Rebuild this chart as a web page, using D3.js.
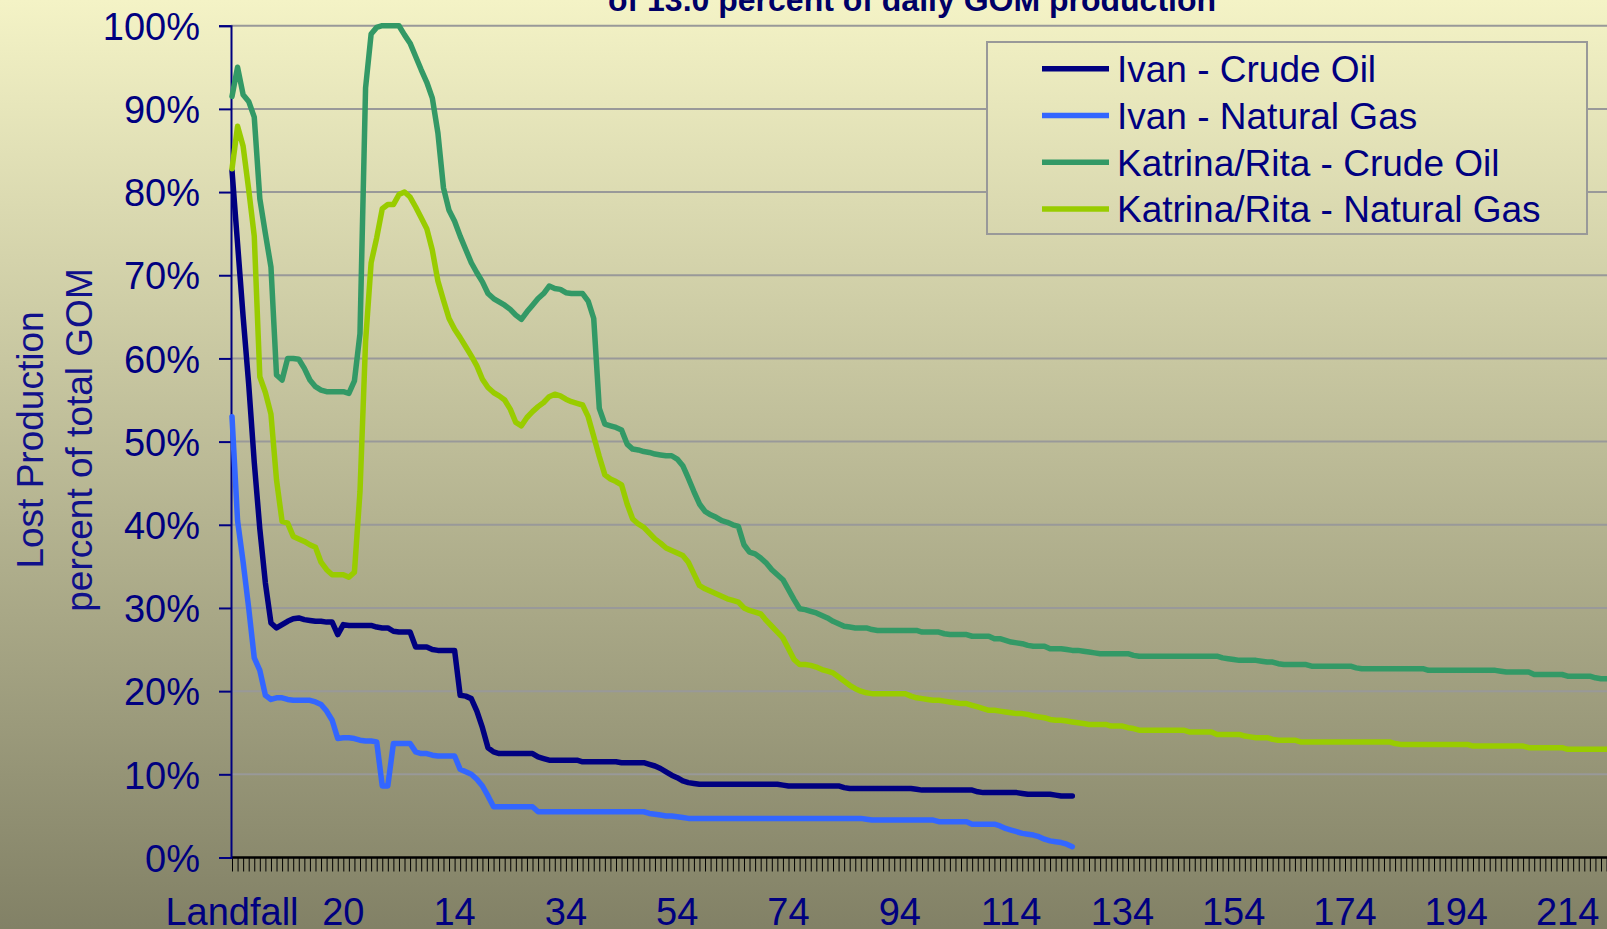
<!DOCTYPE html>
<html>
<head>
<meta charset="utf-8">
<script src="https://cdn.jsdelivr.net/npm/d3@7"></script>
<style>
html,body{margin:0;padding:0;overflow:hidden;background:#fff;}
svg{display:block;font-family:"Liberation Sans",Arial,sans-serif;}
</style>
</head>
<body>
<svg id="chart" width="1607" height="929"></svg>
<script>
// ---------- DATA (percent of total GOM production lost) ----------
const xTickLabels = ["Landfall","20","14","34","54","74","94","114","134","154","174","194","214"];
const labelEvery = 20;
const categoryCount = 248;
const yTicks = [0,10,20,30,40,50,60,70,80,90,100];
const seriesNames = ["Ivan - Crude Oil","Ivan - Natural Gas","Katrina/Rita - Crude Oil","Katrina/Rita - Natural Gas"];
const seriesColors = ["#000080","#3366FF","#339966","#99CC00"];

const ivanOil = [
82.6,73.8,65.0,56.9,47.5,39.5,33.0,28.2,27.6,28.0,
28.4,28.7,28.8,28.6,28.5,28.4,28.4,28.3,28.3,26.8,
28.0,27.9,27.9,27.9,27.9,27.9,27.7,27.6,27.6,27.2,
27.1,27.1,27.1,25.3,25.3,25.3,25.0,24.9,24.9,24.9,
24.9,19.5,19.4,19.1,17.6,15.6,13.2,12.7,12.5,12.5,
12.5,12.5,12.5,12.5,12.5,12.1,11.9,11.7,11.7,11.7,
11.7,11.7,11.7,11.5,11.5,11.5,11.5,11.5,11.5,11.5,
11.4,11.4,11.4,11.4,11.4,11.2,11.0,10.7,10.3,9.9,
9.6,9.2,9.0,8.9,8.8,8.8,8.8,8.8,8.8,8.8,
8.8,8.8,8.8,8.8,8.8,8.8,8.8,8.8,8.8,8.7,
8.6,8.6,8.6,8.6,8.6,8.6,8.6,8.6,8.6,8.6,
8.4,8.3,8.3,8.3,8.3,8.3,8.3,8.3,8.3,8.3,
8.3,8.3,8.3,8.2,8.1,8.1,8.1,8.1,8.1,8.1,
8.1,8.1,8.1,8.1,7.9,7.8,7.8,7.8,7.8,7.8,
7.8,7.8,7.7,7.6,7.6,7.6,7.6,7.6,7.5,7.4,
7.4,7.4];

const ivanGas = [
53.0,40.5,35.5,30.0,24.0,22.5,19.5,19.0,19.2,19.2,
19.0,18.9,18.9,18.9,18.9,18.7,18.4,17.6,16.5,14.3,
14.4,14.4,14.3,14.1,14.0,14.0,13.9,8.6,8.6,13.7,
13.7,13.7,13.7,12.7,12.5,12.5,12.3,12.2,12.2,12.2,
12.2,10.6,10.3,10.0,9.4,8.6,7.4,6.1,6.1,6.1,
6.1,6.1,6.1,6.1,6.1,5.5,5.5,5.5,5.5,5.5,
5.5,5.5,5.5,5.5,5.5,5.5,5.5,5.5,5.5,5.5,
5.5,5.5,5.5,5.5,5.5,5.3,5.2,5.1,5.0,5.0,
4.9,4.8,4.7,4.7,4.7,4.7,4.7,4.7,4.7,4.7,
4.7,4.7,4.7,4.7,4.7,4.7,4.7,4.7,4.7,4.7,
4.7,4.7,4.7,4.7,4.7,4.7,4.7,4.7,4.7,4.7,
4.7,4.7,4.7,4.7,4.6,4.5,4.5,4.5,4.5,4.5,
4.5,4.5,4.5,4.5,4.5,4.5,4.5,4.3,4.3,4.3,
4.3,4.3,4.3,4.0,4.0,4.0,4.0,4.0,3.8,3.5,
3.3,3.1,2.9,2.8,2.7,2.5,2.2,2.0,1.9,1.8,
1.6,1.3];

const katrinaOil = [
91.5,95.0,91.7,90.9,89.0,79.2,75.0,71.0,58.0,57.4,
60.0,60.0,59.9,58.8,57.4,56.6,56.2,56.0,56.0,56.0,
56.0,55.8,57.3,63.0,92.5,99.0,99.8,100,100,100,
100,98.9,97.9,96.3,94.7,93.2,91.3,87.1,80.5,77.8,
76.5,74.7,73.1,71.5,70.3,69.2,67.8,67.2,66.8,66.4,
65.9,65.2,64.7,65.6,66.4,67.2,67.8,68.7,68.4,68.3,
67.9,67.8,67.8,67.8,66.9,64.8,54.0,52.1,51.9,51.7,
51.4,49.7,49.1,49.0,48.8,48.7,48.5,48.4,48.3,48.3,
47.9,47.1,45.6,44.0,42.5,41.6,41.2,40.9,40.5,40.3,
40.0,39.8,37.6,36.7,36.5,36.0,35.4,34.6,34.0,33.4,
32.2,31.0,29.9,29.8,29.6,29.4,29.1,28.8,28.4,28.1,
27.8,27.7,27.6,27.6,27.6,27.4,27.3,27.3,27.3,27.3,
27.3,27.3,27.3,27.3,27.1,27.1,27.1,27.1,26.9,26.8,
26.8,26.8,26.8,26.6,26.6,26.6,26.6,26.3,26.3,26.1,
25.9,25.8,25.7,25.5,25.4,25.4,25.4,25.1,25.1,25.1,
25.0,24.9,24.9,24.8,24.7,24.6,24.5,24.5,24.5,24.5,
24.5,24.5,24.3,24.2,24.2,24.2,24.2,24.2,24.2,24.2,
24.2,24.2,24.2,24.2,24.2,24.2,24.2,24.2,24.0,23.9,
23.8,23.7,23.7,23.7,23.7,23.6,23.5,23.5,23.3,23.2,
23.2,23.2,23.2,23.2,23.0,23.0,23.0,23.0,23.0,23.0,
23.0,23.0,22.8,22.7,22.7,22.7,22.7,22.7,22.7,22.7,
22.7,22.7,22.7,22.7,22.7,22.5,22.5,22.5,22.5,22.5,
22.5,22.5,22.5,22.5,22.5,22.5,22.5,22.5,22.4,22.3,
22.3,22.3,22.3,22.3,22.0,22.0,22.0,22.0,22.0,22.0,
21.8,21.8,21.8,21.8,21.8,21.6,21.5,21.5,21.5];

const katrinaGas = [
82.8,87.9,85.5,80.3,74.7,57.8,55.9,53.3,45.4,40.4,
40.2,38.6,38.3,38.0,37.6,37.3,35.5,34.6,34.0,34.0,
34.0,33.7,34.3,44.0,62.0,71.5,74.5,78.0,78.5,78.5,
79.7,80.0,79.4,78.2,76.9,75.6,73.0,69.3,67.0,64.8,
63.5,62.5,61.4,60.3,59.1,57.5,56.5,55.9,55.5,55.0,
53.9,52.3,51.9,52.9,53.6,54.2,54.7,55.4,55.7,55.5,
55.1,54.8,54.6,54.4,53.0,50.6,48.2,46.0,45.5,45.2,
44.8,42.5,40.7,40.1,39.7,39.0,38.3,37.8,37.2,36.9,
36.6,36.3,35.5,34.1,32.7,32.3,32.0,31.7,31.4,31.1,
30.9,30.7,30.0,29.7,29.5,29.3,28.5,27.8,27.1,26.4,
25.1,23.8,23.2,23.2,23.1,22.9,22.6,22.4,22.2,21.7,
21.2,20.7,20.3,20.0,19.8,19.7,19.7,19.7,19.7,19.7,
19.7,19.7,19.4,19.2,19.1,19.0,18.9,18.9,18.8,18.7,
18.6,18.5,18.5,18.3,18.1,17.9,17.7,17.7,17.6,17.5,
17.4,17.3,17.3,17.2,17.0,16.9,16.8,16.6,16.5,16.5,
16.4,16.3,16.2,16.1,16.0,16.0,16.0,16.0,15.8,15.8,
15.8,15.6,15.5,15.3,15.3,15.3,15.3,15.3,15.3,15.3,
15.3,15.3,15.1,15.1,15.1,15.1,15.1,14.8,14.8,14.8,
14.8,14.8,14.6,14.5,14.4,14.4,14.4,14.2,14.1,14.1,
14.1,14.1,13.9,13.9,13.9,13.9,13.9,13.9,13.9,13.9,
13.9,13.9,13.9,13.9,13.9,13.9,13.9,13.9,13.9,13.7,
13.6,13.6,13.6,13.6,13.6,13.6,13.6,13.6,13.6,13.6,
13.6,13.6,13.6,13.4,13.4,13.4,13.4,13.4,13.4,13.4,
13.4,13.4,13.4,13.2,13.2,13.2,13.2,13.2,13.2,13.2,
13.0,13.0,13.0,13.0,13.0,13.0,13.0,13.0,13.0];

const allSeries = [ivanOil, ivanGas, katrinaOil, katrinaGas];

// ---------- LAYOUT ----------
const W = 1607, H = 929;
const plotLeft = 231, plotBottom = 857.5, plotTop = 25.7;
const firstX = 232, step = 5.565;
const navy = "#000080";
const font = "'Liberation Sans', Arial, sans-serif";

const svg = d3.select("#chart");

const x = d3.scaleLinear().domain([0, categoryCount - 1]).range([firstX, firstX + (categoryCount - 1) * step]);
const y = d3.scaleLinear().domain([0, 100]).range([plotBottom, plotTop]);

// background gradient
const defs = svg.append("defs");
const grad = defs.append("linearGradient").attr("id","bg")
  .attr("gradientUnits","userSpaceOnUse").attr("x1",0).attr("y1",0).attr("x2",0).attr("y2",H);
grad.append("stop").attr("offset","0%").attr("stop-color","#F4F3C6");
grad.append("stop").attr("offset","100%").attr("stop-color","#828166");
svg.append("rect").attr("width",W).attr("height",H).attr("fill","url(#bg)");

// title fragment (cut at top, as in the reference)
svg.append("text").attr("x",912).attr("y",11).attr("text-anchor","middle")
  .attr("font-size",32).attr("font-weight","bold").attr("fill","#000066")
  .text("of 13.0 percent of daily GOM production");

// gridlines
svg.append("g").selectAll("line").data(yTicks.filter(d => d > 0)).join("line")
  .attr("x1", plotLeft).attr("x2", W)
  .attr("y1", d => y(d)).attr("y2", d => y(d))
  .attr("stroke","#999999").attr("stroke-width",2);

// x axis with a tick per category
const xAxis = d3.axisBottom(x)
  .tickValues(d3.range(categoryCount))
  .tickSize(14).tickFormat("");
const gx = svg.append("g").attr("transform",`translate(0,${plotBottom})`).call(xAxis);
gx.select(".domain").remove();
gx.selectAll(".tick line").attr("stroke","#000").attr("stroke-width",1);
svg.append("line").attr("x1",plotLeft).attr("x2",W).attr("y1",plotBottom).attr("y2",plotBottom)
  .attr("stroke","#000").attr("stroke-width",2.5);

// x labels
svg.append("g").selectAll("text").data(xTickLabels).join("text")
  .attr("x",(d,i) => x(i * labelEvery)).attr("y",925)
  .attr("text-anchor","middle").attr("font-size",38).attr("fill",navy)
  .text(d => d);

// y axis
const yAxis = d3.axisLeft(y).tickValues(yTicks).tickSize(12).tickPadding(19)
  .tickFormat(d => d + "%");
const gy = svg.append("g").attr("transform",`translate(${plotLeft},0)`).call(yAxis);
gy.select(".domain").attr("stroke",navy).attr("stroke-width",2);
gy.selectAll(".tick line").attr("stroke",navy).attr("stroke-width",2);
gy.selectAll(".tick text").attr("fill",navy).attr("font-size",38).attr("font-family",font)
  .attr("dy","0.36em");

// y axis title
const yt = svg.append("text").attr("transform","translate(43,440) rotate(-90)")
  .attr("text-anchor","middle").attr("font-size",37).attr("fill","#10108A");
yt.append("tspan").attr("x",0).attr("dy",0).text("Lost Production");
yt.append("tspan").attr("x",0).attr("dy",49).text("percent of total GOM");

// series lines
const line = d3.line().x((d,i) => x(i)).y(d => y(d));
svg.append("g").selectAll("path").data(allSeries).join("path")
  .attr("d", line)
  .attr("fill","none")
  .attr("stroke",(d,i) => seriesColors[i])
  .attr("stroke-width",5.5)
  .attr("stroke-linejoin","round")
  .attr("stroke-linecap","round");

// legend
const lg = svg.append("g");
lg.append("rect").attr("x",987).attr("y",42).attr("width",600).attr("height",192)
  .attr("fill","url(#bg)").attr("stroke","#999999").attr("stroke-width",2);
const rows = lg.selectAll("g.row").data(seriesNames).join("g").attr("class","row")
  .attr("transform",(d,i) => `translate(0,${68.7 + i * 46.8})`);
rows.append("line").attr("x1",1042).attr("x2",1109).attr("y1",0).attr("y2",0)
  .attr("stroke",(d,i) => seriesColors[i]).attr("stroke-width",5.5);
rows.append("text").attr("x",1117).attr("y",0).attr("dy","0.36em")
  .attr("font-size",37).attr("fill",navy).text(d => d);
</script>
</body>
</html>
